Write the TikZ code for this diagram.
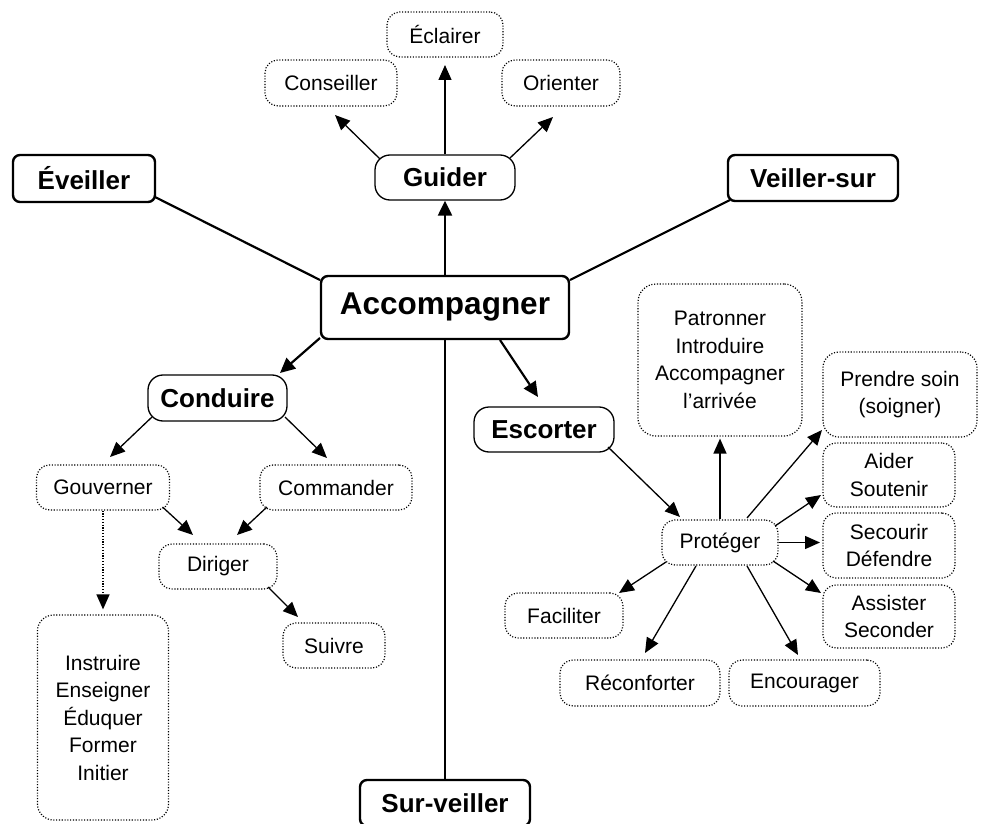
\documentclass[tikz,border=0pt]{standalone}
\usepackage{fontspec}
\setmainfont{Liberation Sans}
\usetikzlibrary{arrows.meta,calc}
\begin{document}
\begin{tikzpicture}[x=1pt,y=-1pt,
 every node/.style={inner sep=0pt, align=center},
 dbox/.style={draw=black, line width=1.2pt, dash pattern=on 1.1pt off 1.7pt, rounded corners=13pt, font=\fontsize{21}{27.5}\selectfont},
 pill/.style={draw, line width=1.3pt, rounded corners=15pt, font=\fontsize{26}{30}\selectfont\bfseries},
 mbox/.style={draw, line width=2.4pt, rounded corners=7pt, font=\fontsize{26}{30}\selectfont\bfseries},
 sz/.style 2 args={minimum width=#1pt, minimum height=#2pt},
 thickln/.style={line width=2.2pt},
 thickar/.style={line width=2.2pt, -{Triangle[length=15pt,width=14pt]}},
 thinar/.style={line width=1.3pt, -{Triangle[length=15pt,width=13pt]}},
 dotar/.style={line width=1.2pt, dash pattern=on 1.1pt off 1.7pt, -{Triangle[length=15pt,width=13pt]}},
]
\useasboundingbox (0,0) rectangle (986,824);

% top
\node[dbox, sz={116}{45}] (ecl) at (445,34.5) {Éclairer};
\node[dbox, sz={132}{46}] (cons) at (331,83) {Conseiller};
\node[dbox, sz={118}{46}] (ori) at (561,83) {Orienter};
\node[pill, sz={140}{45}] (guider) at (445,177.5) {Guider};
\node[mbox, sz={142}{47}] (eve) at (84,178.5) {Éveiller};
\node[mbox, sz={170}{46}] (ves) at (813,178) {Veiller-sur};
\node[mbox, sz={248}{63}, font=\fontsize{31.5}{34}\selectfont\bfseries] (acc) at (445,307.5) {Accompagner};
\node[mbox, sz={170}{46}] (sur) at (445,803) {Sur-veiller};

% left
\node[pill, sz={139}{46}] (cond) at (217.5,398) {Conduire};
\node[dbox, sz={133}{45}] (gouv) at (103,487.5) {Gouverner};
\node[dbox, sz={152}{45}] (comm) at (336,487.5) {Commander};
\node[dbox, sz={118}{45}] (dirig) at (218,566.5) {Diriger};
\node[dbox, sz={102}{45}] (suiv) at (334,645.5) {Suivre};
\node[dbox, sz={131}{205}, rounded corners=16pt] (instr) at (103,717.5) {Instruire\\Enseigner\\Éduquer\\Former\\Initier};

% right
\node[pill, sz={140}{45}] (esc) at (544,429.5) {Escorter};
\node[dbox, sz={164}{152}, rounded corners=18pt] (patr) at (720,360) {Patronner\\Introduire\\Accompagner\\l’arrivée};
\node[dbox, sz={154}{85}, rounded corners=16pt] (prend) at (900,394.5) {Prendre soin\\(soigner)};
\node[dbox, sz={132}{64}] (aider) at (889,475) {Aider\\Soutenir};
\node[dbox, sz={132}{65}] (secour) at (889,545.5) {Secourir\\Défendre};
\node[dbox, sz={132}{63}] (assist) at (889,616.5) {Assister\\Seconder};
\node[dbox, sz={116}{45}] (prot) at (720,542.5) {Protéger};
\node[dbox, sz={118}{45}] (facil) at (564,615.5) {Faciliter};
\node[dbox, sz={160}{46}] (recon) at (640,683) {Réconforter};
\node[dbox, sz={151}{46}] (encou) at (804.5,683) {Encourager};

% connectors from Accompagner
\draw[thickar] (acc.north) -- (guider.south);
\draw[thickln] ($(acc)+(-125,-27.5)$) -- ($(eve)+(71,18.5)$);
\draw[thickln] ($(acc)+(125,-27.5)$) -- ($(ves)+(-83,22)$);
\draw[thickln] (acc.south) -- (sur.north);
\draw[thickar] ($(acc)+(-125,30.5)$) -- ($(cond)+(62.5,-25)$);
\draw[thickar] ($(acc)+(55,32.5)$) -- ($(esc)+(-6,-32.5)$);

% Guider
\draw[thinar] ($(guider)+(-65,-18.5)$) -- ($(cons)+(4,32)$);
\draw[thinar] (guider.north) -- ($(ecl)+(0,30.5)$);
\draw[thinar] ($(guider)+(65,-19.5)$) -- ($(ori)+(-8,34)$);

% Conduire
\draw[thinar] ($(cond)+(-65.5,19)$) -- ($(gouv)+(7,-30.5)$);
\draw[thinar] ($(cond)+(67.5,19)$) -- ($(comm)+(-9,-29.5)$);
\draw[thinar] ($(gouv)+(59.5,19.5)$) -- ($(dirig)+(-25,-31.5)$);
\draw[thinar] ($(comm)+(-69,19.5)$) -- ($(dirig)+(19,-31.5)$);
\draw[dotar] (gouv.south) -- ($(instr.north)+(0,-5)$);
\draw[thinar] ($(dirig)+(50,20.5)$) -- ($(suiv)+(-36,-28.5)$);

% Escorter / Protéger
\draw[thinar] ($(esc)+(64,17.5)$) -- ($(prot)+(-40,-25.5)$);
\draw[thinar] (prot.north) -- ($(patr.south)+(0,2)$);
\draw[thinar] ($(prot)+(27,-24.5)$) -- ($(prend)+(-78,35.5)$);
\draw[thinar] ($(prot)+(55,-16.5)$) -- ($(aider)+(-68,20)$);
\draw[thinar] (prot.east) -- ($(secour)+(-69,-3)$);
\draw[thinar] ($(prot)+(53,18.5)$) -- ($(assist)+(-68,-23.5)$);
\draw[thinar] ($(prot)+(-54,19.5)$) -- ($(facil)+(55,-22.5)$);
\draw[thinar] ($(prot)+(-24,23.5)$) -- ($(recon)+(5,-30)$);
\draw[thinar] ($(prot)+(27,23.5)$) -- ($(encou)+(-6.5,-28)$);
\end{tikzpicture}
\end{document}
